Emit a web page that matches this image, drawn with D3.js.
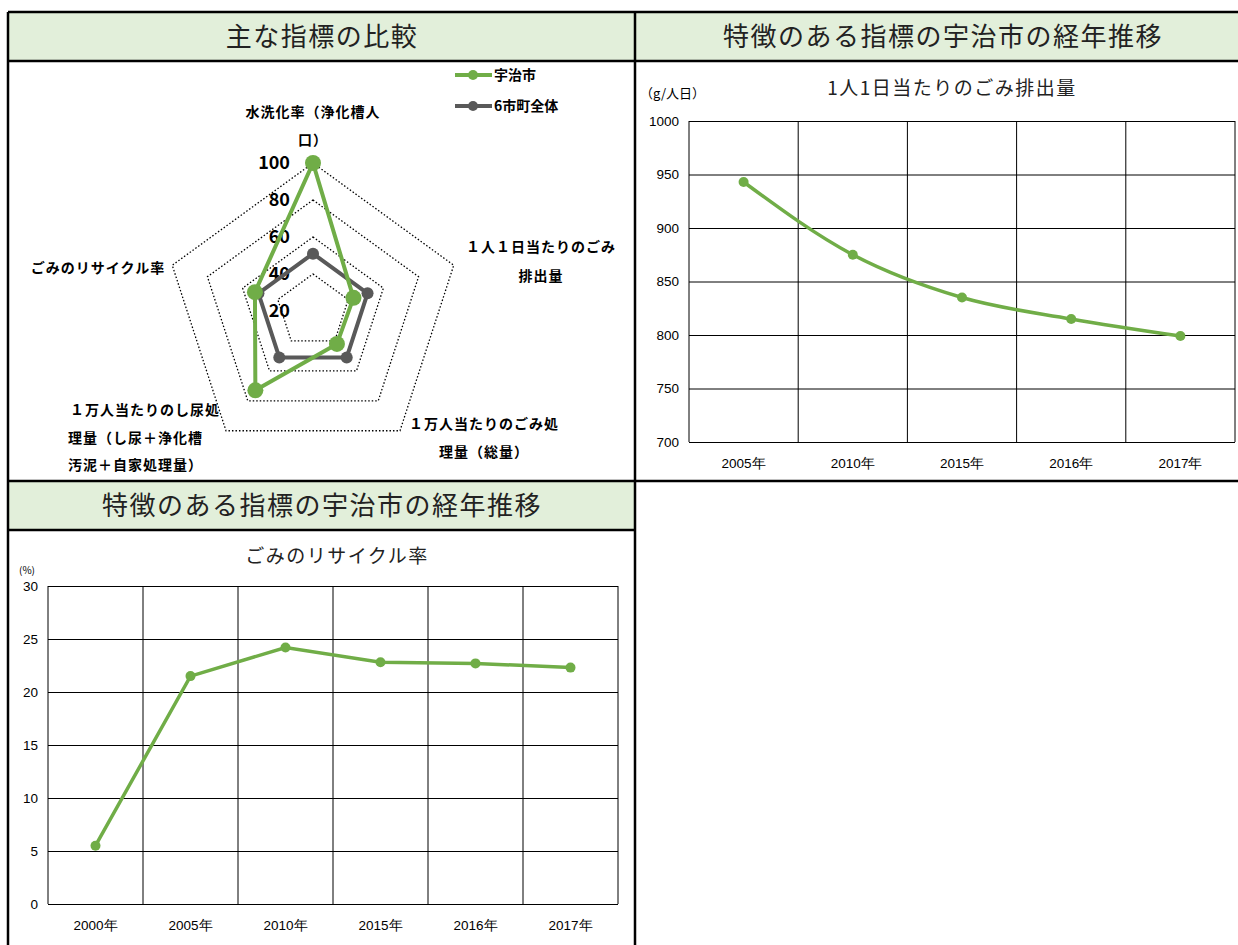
<!DOCTYPE html>
<html>
<head>
  <meta charset="utf-8">
  <title>宇治市 指標</title>
  <script src="https://cdn.jsdelivr.net/npm/d3@7"></script>
  <style>
    body { margin: 0; background: #fff; }
    svg { display: block; font-family: "Noto Sans CJK JP", "Noto Sans", sans-serif; }
    .axis path { display: none; }
    .axis line { stroke: #000; }
    .axis text { fill: #000; font-size: 13.5px; }
    .line { fill: none; stroke: #70ad47; stroke-width: 3.5px; }
  </style>
</head>
<body>
<svg width="1238" height="945"></svg>
<script>
  // radar data
  var radarAxes = ["水洗化率（浄化槽人口）", "１人１日当たりのごみ排出量", "１万人当たりのごみ処理量（総量）",
                   "１万人当たりのし尿処理量（し尿＋浄化槽汚泥＋自家処理量）", "ごみのリサイクル率"];
  var radarUji = [100, 43, 42, 73, 53];
  var radarAll = [51, 51, 51, 51, 51];
  var radarTicks = [20, 40, 60, 80, 100];
  var seriesNames = ["宇治市", "6市町全体"];

  // line chart 1
  var years1 = ["2005年", "2010年", "2015年", "2016年", "2017年"];
  var waste = [943, 875, 835, 815, 799];
  var ticks1 = [700, 750, 800, 850, 900, 950, 1000];

  // line chart 2
  var years2 = ["2000年", "2005年", "2010年", "2015年", "2016年", "2017年"];
  var recycle = [5.5, 21.5, 24.2, 22.8, 22.7, 22.3];
  var ticks2 = [0, 5, 10, 15, 20, 25, 30];

  var green = "#70ad47", grey = "#595959";
  var svg = d3.select("svg");

  // ---- panel frame ----
  var frame = svg.append("g");
  frame.append("rect").attr("x", 8).attr("y", 12).attr("width", 1240).attr("height", 49).attr("fill", "#e2efda");
  frame.append("rect").attr("x", 8).attr("y", 481).attr("width", 627).attr("height", 49).attr("fill", "#e2efda");
  var borders = [
    [8, 12, 1250, 12], [8, 61, 1250, 61], [8, 481, 1250, 481], [8, 530, 635, 530],
    [8, 12, 8, 950], [635, 12, 635, 950]
  ];
  frame.selectAll("line").data(borders).enter().append("line")
      .attr("x1", function(d) { return d[0]; }).attr("y1", function(d) { return d[1]; })
      .attr("x2", function(d) { return d[2]; }).attr("y2", function(d) { return d[3]; })
      .attr("stroke", "#000").attr("stroke-width", 2.5);
  var headers = [["主な指標の比較", 322, 37], ["特徴のある指標の宇治市の経年推移", 943, 37], ["特徴のある指標の宇治市の経年推移", 322, 506]];
  frame.selectAll("text").data(headers).enter().append("text")
      .attr("x", function(d) { return d[1]; }).attr("y", function(d) { return d[2]; })
      .attr("dy", "0.35em").attr("text-anchor", "middle")
      .style("font-size", "26px").style("letter-spacing", "1.5px").attr("fill", "#222")
      .text(function(d) { return d[0]; });

  // ---- radar ----
  var cx = 313, cy = 311, R = 148;
  var r = d3.scaleLinear().domain([20, 100]).range([0, R]);
  var angle = function(i) { return -Math.PI / 2 + i * 2 * Math.PI / radarAxes.length; };
  var pt = function(v, i) { return [cx + r(v) * Math.cos(angle(i)), cy + r(v) * Math.sin(angle(i))]; };
  var radar = svg.append("g");

  radar.selectAll(".ring").data(radarTicks.slice(1)).enter().append("polygon")
      .attr("points", function(t) { return radarAxes.map(function(_, i) { return pt(t, i).join(","); }).join(" "); })
      .attr("fill", "none").attr("stroke", "#000").attr("stroke-width", 1.3).attr("stroke-dasharray", "1.5,2");

  radar.selectAll(".rtick").data(radarTicks).enter().append("text")
      .attr("x", cx - 23).attr("y", function(t) { return cy - r(t); })
      .attr("dy", "0.35em").attr("text-anchor", "end")
      .style("font-size", "18px").style("font-weight", "bold")
      .text(function(t) { return t; });

  var radarLine = d3.line().curve(d3.curveLinearClosed);
  function drawSeries(vals, color, rad) {
    var pts = vals.map(pt);
    radar.append("path").attr("d", radarLine(pts)).attr("fill", "none")
        .attr("stroke", color).attr("stroke-width", 4).attr("stroke-linejoin", "round");
    radar.selectAll(null).data(pts).enter().append("circle")
        .attr("cx", function(d) { return d[0]; }).attr("cy", function(d) { return d[1]; })
        .attr("r", rad).attr("fill", color);
  }
  drawSeries(radarAll, grey, 6);
  drawSeries(radarUji, green, 8);

  // axis labels (wrapped as in the source)
  var labelLines = [
    [["水洗化率（浄化槽人", 313, 112, "middle"], ["口）", 313, 140, "middle"]],
    [["１人１日当たりのごみ", 541, 247, "middle"], ["排出量", 541, 276, "middle"]],
    [["１万人当たりのごみ処", 484, 424, "middle"], ["理量（総量）", 484, 452, "middle"]],
    [["１万人当たりのし尿処", 70, 410, "start"], ["理量（し尿＋浄化槽", 68, 438, "start"], ["汚泥＋自家処理量）", 68, 465, "start"]],
    [["ごみのリサイクル率", 98, 268, "middle"]]
  ];
  labelLines.forEach(function(lines) {
    radar.selectAll(null).data(lines).enter().append("text")
        .attr("x", function(d) { return d[1]; }).attr("y", function(d) { return d[2]; })
        .attr("dy", "0.35em").attr("text-anchor", function(d) { return d[3]; })
        .style("font-size", "14px").style("font-weight", "bold").style("letter-spacing", "1px")
        .text(function(d) { return d[0]; });
  });

  // legend
  var legend = radar.selectAll(".legend").data(seriesNames).enter().append("g")
      .attr("transform", function(d, i) { return "translate(455," + (75 + i * 31) + ")"; });
  legend.append("line").attr("x1", 0).attr("x2", 37)
      .attr("stroke", function(d, i) { return i ? grey : green; }).attr("stroke-width", 4);
  legend.append("circle").attr("cx", 18).attr("r", 5)
      .attr("fill", function(d, i) { return i ? grey : green; });
  legend.append("text").attr("x", 39).attr("dy", "0.35em")
      .style("font-size", "14px").style("font-weight", "bold")
      .text(function(d) { return d; });

  // ---- line charts ----
  function lineChart(opt) {
    var g = svg.append("g");
    var x = d3.scaleBand().domain(opt.cats).range([opt.left, opt.right]);
    var y = d3.scaleLinear().domain(opt.domain).range([opt.bottom, opt.top]);

    g.append("g").attr("class", "axis")
        .attr("transform", "translate(" + opt.left + ",0)")
        .call(d3.axisLeft(y).tickValues(opt.ticks).tickFormat(d3.format("d"))
          .tickSize(-(opt.right - opt.left)).tickPadding(10))
        .selectAll("text").attr("x", -10);

    g.append("g").attr("class", "axis")
        .attr("transform", "translate(0," + opt.bottom + ")")
        .call(d3.axisBottom(x).tickSize(0).tickPadding(16));

    var edges = opt.cats.map(function(c) { return x(c); }).concat([opt.right]);
    g.selectAll(".vgrid").data(edges).enter().append("line")
        .attr("x1", function(d) { return d; }).attr("x2", function(d) { return d; })
        .attr("y1", opt.top).attr("y2", opt.bottom).attr("stroke", "#000");

    var line = d3.line()
        .curve(opt.curve)
        .x(function(d, i) { return x(opt.cats[i]) + x.bandwidth() / 2; })
        .y(function(d) { return y(d); });
    g.append("path").attr("class", "line").attr("d", line(opt.values));
    g.selectAll(".dot").data(opt.values).enter().append("circle")
        .attr("cx", function(d, i) { return x(opt.cats[i]) + x.bandwidth() / 2; })
        .attr("cy", function(d) { return y(d); })
        .attr("r", 5).attr("fill", green);

    g.append("text").attr("x", opt.titleX).attr("y", opt.titleY).attr("dy", "0.35em")
        .attr("text-anchor", "middle").style("font-size", "19px").style("letter-spacing", "1.5px")
        .attr("fill", "#222").text(opt.title);
    g.append("text").attr("x", opt.unitX).attr("y", opt.unitY).attr("dy", "0.35em")
        .style("font-size", opt.unitSize).text(opt.unit);
  }

  lineChart({
    cats: years1, values: waste, ticks: ticks1, domain: [700, 1000],
    left: 689, right: 1235, top: 121, bottom: 442, curve: d3.curveMonotoneX,
    title: "1人1日当たりのごみ排出量", titleX: 952, titleY: 88,
    unit: "（g/人日）", unitX: 640, unitY: 93, unitSize: "13px"
  });

  lineChart({
    cats: years2, values: recycle, ticks: ticks2, domain: [0, 30],
    left: 48, right: 618, top: 586, bottom: 904, curve: d3.curveLinear,
    title: "ごみのリサイクル率", titleX: 337, titleY: 556,
    unit: "(%)", unitX: 19, unitY: 570, unitSize: "10px"
  });
</script>
</body>
</html>
